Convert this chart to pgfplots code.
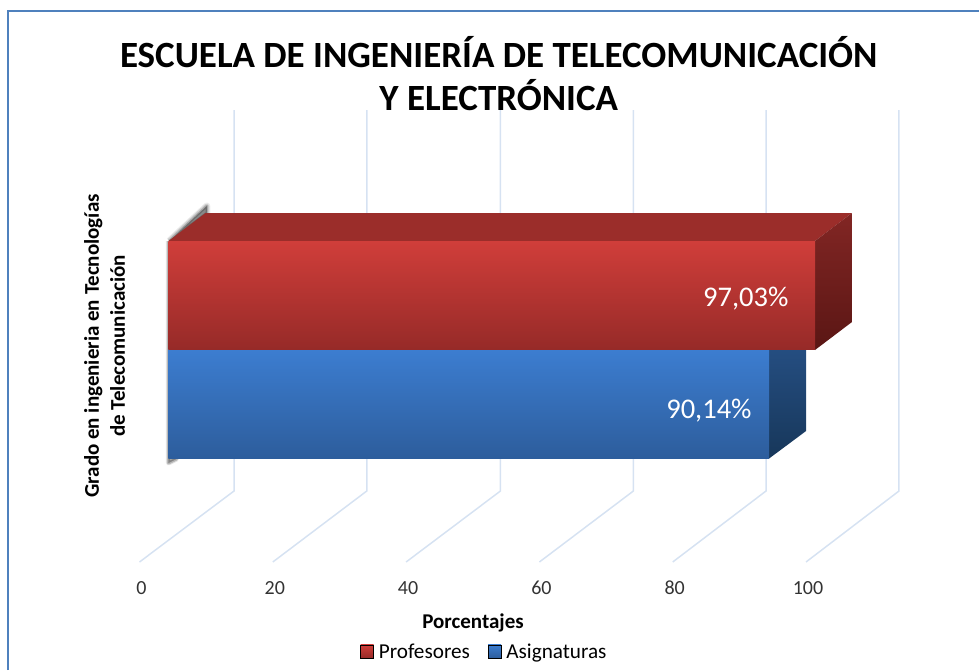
\documentclass[border=0pt]{standalone}
\usepackage{fontspec}
\setmainfont{Carlito}
\usepackage{pgfplots}
\pgfplotsset{compat=1.18}
\definecolor{gridc}{HTML}{D6E2F2}
\definecolor{framec}{HTML}{4F81BD}
\definecolor{redT}{HTML}{D03E3A}
\definecolor{redB}{HTML}{962A28}
\definecolor{redTop}{HTML}{9B2D2A}
\definecolor{redS1}{HTML}{822624}
\definecolor{redS2}{HTML}{5A1614}
\definecolor{bluT}{HTML}{3C7DD0}
\definecolor{bluB}{HTML}{2D5D9C}
\definecolor{bluS1}{HTML}{28538A}
\definecolor{bluS2}{HTML}{17375A}
\begin{document}
\begin{tikzpicture}[x=1pt,y=1pt]
\path[use as bounding box] (0,0) rectangle (979,670);
\draw[framec,line width=2pt] (8,0)--(8,659)--(979,659);
\begin{axis}[
  at={(139.5pt,108pt)},anchor=south west,
  width=666.5pt,height=452pt,scale only axis,
  xmin=0,xmax=100,ymin=110,ymax=562,y dir=reverse,
  axis line style={draw=none},
  tick style={draw=none},
  clip=false,
  ytick=\empty,
  xtick={0,20,40,60,80,100},
  xticklabels={0,20,40,60,80,100},
  xticklabel style={anchor=center,yshift=-26pt,xshift=2pt,font=\fontsize{20}{24}\selectfont,text=black!80},
  title={ESCUELA DE INGENIERÍA DE TELECOMUNICACIÓN\\Y ELECTRÓNICA},
  title style={at={(axis description cs:0.539,1.0675)},anchor=center,align=center,font=\fontsize{37}{43}\selectfont\bfseries},
  xlabel={Porcentajes},
  xlabel style={at={(axis description cs:0.5004,-0.135)},anchor=center,font=\fontsize{21}{24}\selectfont\bfseries},
  ylabel={Grado en ingenieria en Tecnologías\\de Telecomunicación},
  ylabel style={at={(axis description cs:-0.0525,0.478)},anchor=center,align=center,font=\fontsize{21}{26}\selectfont\bfseries},
  legend style={at={(axis description cs:0.5176,-0.199)},anchor=center,draw=none,fill=none,legend columns=2,font=\fontsize{21.2}{24}\selectfont,
    /tikz/every even column/.append style={column sep=16pt}},
]
\addplot[gridc,line width=1.5pt,forget plot] coordinates {(0,562)(14.18,491)(14.18,110)};
\addplot[gridc,line width=1.5pt,forget plot] coordinates {(20,562)(34.1,491)(34.1,110)};
\addplot[gridc,line width=1.5pt,forget plot] coordinates {(40,562)(54.15,491)(54.15,110)};
\addplot[gridc,line width=1.5pt,forget plot] coordinates {(60,562)(74.1,491)(74.1,110)};
\addplot[gridc,line width=1.5pt,forget plot] coordinates {(80,562)(94,491)(94,110)};
\addplot[gridc,line width=1.5pt,forget plot] coordinates {(100,562)(113.95,491)(113.95,110)};
\addlegendimage{legend image code/.code={\path[top color=redT,bottom color=redB] (0pt,-6pt) rectangle (13pt,7pt);}}
\addlegendentry{\kern3pt Profesores}
\addlegendimage{legend image code/.code={\path[top color=bluT,bottom color=bluB] (0pt,-6pt) rectangle (13pt,7pt);}}
\addlegendentry{\kern3pt Asignaturas}
\end{axis}
\begin{axis}[
  at={(139.5pt,108pt)},anchor=south west,
  width=666.5pt,height=452pt,scale only axis,
  xmin=-4.352,xmax=95.68,ymin=110,ymax=562,y dir=reverse,
  hide axis,clip=false,
  xbar,bar width=108.5pt,bar shift=0pt,
  point meta=explicit symbolic,
  nodes near coords,
  nodes near coords style={anchor=east,text=white,font=\fontsize{28.5}{32}\selectfont},
]
% shadow
\addplot[xbar=false,sharp plot,draw=black,fill=black,opacity=0.07,line width=7pt,line join=round,nodes near coords=,forget plot] coordinates {(0.1,241)(5.75,206)(5.75,213)(0.1,241)};
\addplot[xbar=false,sharp plot,draw=black,fill=black,opacity=0.12,line width=5pt,line join=round,nodes near coords=,forget plot] coordinates {(0.1,241)(5.75,206)(5.75,213)(0.1,241)};
\addplot[xbar=false,sharp plot,draw=black,fill=black,opacity=0.2,line width=2.5pt,line join=round,nodes near coords=,forget plot] coordinates {(0.1,241)(5.75,206)(5.75,213)(0.1,241)};
\addplot[xbar=false,sharp plot,draw=black,fill=black,opacity=0.1,line width=5pt,line join=round,nodes near coords=,forget plot] coordinates {(0,241)(0,463)(1.2,459)(0,241)};
\addplot[xbar=false,sharp plot,draw=black,fill=black,opacity=0.2,line width=3pt,line join=round,nodes near coords=,forget plot] coordinates {(0,241)(0,463)(1.2,459)(0,241)};
% blue bar
\addplot[xbar=false,sharp plot,draw=none,top color=bluS1,bottom color=bluS2,nodes near coords=,forget plot] coordinates {(90.14,350)(95.69,322)(95.69,431)(90.14,458.5)(90.14,350)};
\addplot[draw=none,top color=bluT,bottom color=bluB,
  nodes near coords style={xshift=-14pt,yshift=-6.5pt},forget plot] coordinates {(90.14,404.2)[90,14\%]};
% red bar
\addplot[xbar=false,sharp plot,draw=none,fill=redTop,nodes near coords=,forget plot] coordinates {(0,241)(5.55,213)(102.58,213)(97.03,241)(0,241)};
\addplot[xbar=false,sharp plot,draw=none,top color=redS1,bottom color=redS2,nodes near coords=,forget plot] coordinates {(97.03,241)(102.58,213)(102.58,322)(97.03,350)(97.03,241)};
\addplot[draw=none,top color=redT,bottom color=redB,
  nodes near coords style={xshift=-23pt,yshift=-3pt},forget plot] coordinates {(97.03,295.5)[97,03\%]};
\end{axis}
\end{tikzpicture}
\end{document}
